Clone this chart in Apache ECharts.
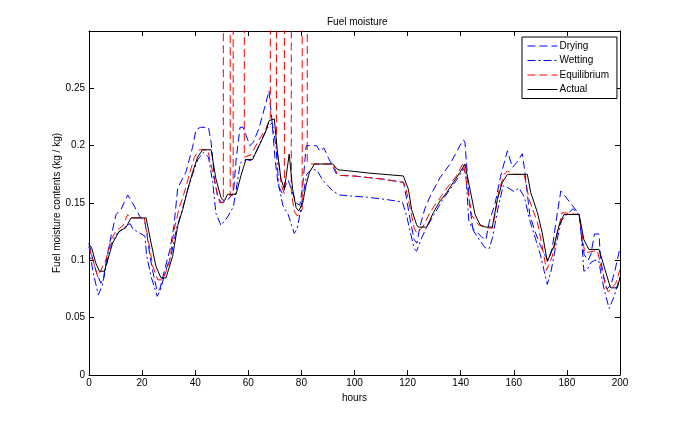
<!DOCTYPE html>
<html>
<head>
<meta charset="utf-8">
<title>Fuel moisture</title>
<script src="https://cdn.jsdelivr.net/npm/echarts@6/dist/echarts.min.js"></script>
<style>
  html, body { margin: 0; padding: 0; background: #fff; }
  #chart { width: 685px; height: 421px; }
</style>
</head>
<body>
<div id="chart"></div>
<script>
// [hour, moisture] pairs
var drying = [[0,0.115],[1.5,0.100],[3,0.088],[4.5,0.080],[5.5,0.085],[7,0.106],[8.3,0.121],[10.2,0.140],[12.1,0.1445],[13.7,0.153],[14.6,0.157],[16.4,0.150],[19.2,0.138],[21,0.134],[22,0.12],[23,0.103],[24.5,0.085],[25.7,0.073],[26.7,0.075],[28.5,0.092],[30.5,0.1095],[32,0.13],[33.4,0.163],[36.5,0.177],[39,0.1985],[40.3,0.214],[42,0.216],[45,0.216],[46,0.203],[47.3,0.17],[48.5,0.155],[50,0.15],[52,0.152],[54.4,0.159],[55.5,0.19],[56.9,0.216],[58,0.216],[59,0.21],[60.6,0.2],[61.9,0.203],[64,0.215],[66,0.232],[67.8,0.248],[68.8,0.225],[70,0.19],[71.3,0.165],[72.9,0.158],[74,0.165],[75,0.17],[76.5,0.16],[78,0.15],[79.4,0.148],[80.5,0.165],[81.8,0.2],[83,0.2],[85.7,0.2],[87,0.195],[88.5,0.198],[90,0.19],[91.4,0.184],[93,0.176],[95,0.174],[100,0.1735],[110,0.171],[118.5,0.168],[119.5,0.155],[121,0.135],[122.5,0.118],[123.5,0.115],[124.7,0.13],[126.5,0.145],[128.5,0.156],[132.2,0.172],[136,0.184],[139.7,0.2],[141,0.205],[141.6,0.203],[142.5,0.175],[143.3,0.15],[144.5,0.128],[146,0.125],[148,0.12],[149.5,0.118],[150.7,0.133],[153,0.15],[155,0.173],[157.6,0.1955],[159.5,0.181],[161,0.185],[163.2,0.193],[164,0.18],[166,0.14],[168,0.125],[170,0.113],[171.6,0.105],[173,0.1],[174.5,0.111],[176,0.135],[177.7,0.1605],[179,0.157],[182,0.148],[184.6,0.14],[185.5,0.12],[186.5,0.105],[188,0.1],[189,0.105],[190.4,0.123],[192.1,0.123],[192.7,0.1],[194,0.085],[195,0.075],[196.5,0.078],[198,0.09],[200,0.111]];

var wetting = [[0,0.112],[1.5,0.09],[3.5,0.070],[5,0.078],[6.5,0.095],[8,0.112],[10,0.122],[12,0.126],[14,0.13],[15.5,0.132],[16.6,0.127],[19,0.124],[21.1,0.121],[21.7,0.104],[23.5,0.085],[25.7,0.0686],[27,0.075],[29,0.092],[31,0.105],[33,0.128],[35,0.143],[37,0.16],[39,0.175],[41,0.188],[43,0.194],[45,0.19],[46.6,0.168],[47.8,0.141],[49.7,0.1305],[52,0.137],[54.4,0.147],[56,0.17],[57,0.185],[59,0.188],[61,0.187],[63,0.195],[65,0.205],[67,0.215],[69,0.22],[70.4,0.20],[71.5,0.165],[73,0.148],[75,0.14],[77.3,0.1235],[78.5,0.128],[79.4,0.14],[80.5,0.155],[82,0.175],[84,0.18],[86,0.178],[88,0.17],[90,0.165],[92,0.16],[94.4,0.157],[99,0.156],[105,0.155],[112,0.153],[118,0.151],[119.5,0.14],[121,0.125],[122.5,0.11],[123.4,0.108],[125,0.118],[127,0.128],[130,0.14],[133,0.152],[136,0.162],[139,0.172],[141,0.18],[142,0.175],[143,0.135],[145,0.125],[147,0.118],[149.2,0.111],[150.7,0.11],[152,0.12],[154,0.145],[156,0.165],[158,0.163],[160,0.16],[162,0.163],[164,0.155],[166,0.135],[168,0.12],[170,0.105],[171.5,0.09],[172.6,0.079],[174,0.09],[176,0.115],[178,0.135],[180,0.14],[182.3,0.145],[184.5,0.14],[185.2,0.13],[186.4,0.0905],[187.7,0.092],[189,0.098],[190.4,0.1],[192,0.1],[192.7,0.09],[194,0.075],[195.9,0.058],[197.8,0.0686],[200,0.086]];

// rain hours push the equilibrium far above the plotted range
var equilibrium = [[0,0.112],[3.3,0.0855],[6.4,0.1007],[8.3,0.118],[10.2,0.1255],[12.7,0.13],[14.6,0.140],[15.8,0.137],[20.8,0.137],[22.1,0.121],[24,0.095],[25.9,0.083],[27.8,0.083],[30.3,0.098],[32.1,0.127],[34,0.146],[35.9,0.159],[37.8,0.175],[39.7,0.19],[41.5,0.1964],[44.7,0.1964],[46.6,0.1766],[48.5,0.156],[49.3,0.150],[50.6,0.151],[50.6,0.5],[53.2,0.5],[53.2,0.156],[54.3,0.157],[54.3,0.5],[58.5,0.5],[58.5,0.19],[61,0.192],[64,0.205],[66.7,0.215],[68.3,0.225],[68.3,0.5],[70.6,0.5],[70.6,0.2],[71.5,0.185],[72.5,0.165],[73.6,0.158],[73.6,0.5],[76.2,0.5],[76.2,0.16],[77.3,0.143],[78.3,0.139],[79.5,0.14],[80.3,0.145],[80.3,0.5],[82.2,0.5],[82.2,0.186],[84,0.184],[92,0.184],[93.5,0.175],[95,0.174],[100,0.1735],[110,0.171],[118.5,0.168],[119.3,0.163],[121,0.145],[122.5,0.128],[123.4,0.124],[125.7,0.129],[128.5,0.142],[131,0.1505],[134.8,0.163],[138.5,0.174],[141,0.1854],[142.5,0.163],[144.2,0.139],[146.7,0.131],[149.2,0.1285],[152,0.128],[152.6,0.1357],[154.5,0.162],[156.4,0.175],[157.6,0.178],[160,0.175],[163.9,0.175],[165.8,0.153],[168.9,0.133],[170.7,0.1123],[172.3,0.0913],[174.5,0.1036],[176.4,0.124],[178.2,0.1416],[178.9,0.142],[184.6,0.140],[186,0.118],[186.7,0.1066],[191.5,0.1085],[193.4,0.089],[194.6,0.0773],[195.6,0.0724],[198.4,0.080],[200,0.092]];

var actual = [[0,0.114],[1,0.111],[2.5,0.098],[3.9,0.0905],[5.8,0.0905],[8.9,0.115],[11.4,0.1255],[13.9,0.1285],[15.8,0.137],[21.5,0.137],[23.4,0.115],[25.2,0.095],[27.1,0.0847],[29,0.0847],[31.5,0.1036],[33.4,0.13],[35.3,0.1445],[37.2,0.162],[39,0.1766],[40.9,0.19],[42.8,0.1964],[46,0.1964],[47.8,0.171],[49.7,0.155],[50.2,0.153],[51,0.152],[52.2,0.1576],[55.4,0.1576],[57.2,0.1736],[59.1,0.188],[61.6,0.188],[64.1,0.2],[66.7,0.213],[67.9,0.222],[69.8,0.2233],[71,0.194],[72.3,0.1708],[73.6,0.162],[75.4,0.1926],[76.7,0.162],[78,0.146],[79,0.143],[80.5,0.150],[81.7,0.165],[83,0.1766],[84.9,0.184],[91.8,0.184],[93.7,0.179],[98.7,0.1778],[105.8,0.176],[118.4,0.1736],[120.3,0.162],[121.5,0.1445],[123.4,0.131],[124,0.129],[127.2,0.129],[129.7,0.1416],[132.2,0.1518],[134.7,0.159],[137.2,0.168],[139.7,0.1766],[141.6,0.184],[143.5,0.162],[145.4,0.140],[147.3,0.131],[149.2,0.129],[151.9,0.129],[153.8,0.153],[155.7,0.168],[157.6,0.175],[165.1,0.175],[166.4,0.159],[168.9,0.1416],[170.7,0.124],[172.6,0.099],[173.3,0.0978],[175.1,0.1123],[177,0.13],[178.9,0.140],[184.6,0.140],[186.4,0.118],[188.3,0.1095],[192.1,0.1095],[194,0.0948],[195.9,0.080],[196.5,0.076],[199,0.076],[200,0.085]];

var font = 'Liberation Sans, Arial, Helvetica, sans-serif';

function lineSeries(name, data, color, dash) {
  return {
    name: name,
    type: 'line',
    data: data,
    showSymbol: false,
    symbol: 'none',
    animation: false,
    clip: true,
    xAxisIndex: 0,
    yAxisIndex: 0,
    lineStyle: { color: color, width: 1, type: dash },
    itemStyle: { color: color }
  };
}

function boxAxis(base) {
  return Object.assign({
    type: 'value',
    splitLine: { show: false },
    axisLine: { show: true, onZero: false, lineStyle: { color: '#000', width: 1 } },
    axisTick: { show: true, inside: true, length: 5, lineStyle: { color: '#000' } }
  }, base);
}

var myChart = echarts.init(document.getElementById('chart'));
myChart.setOption({
  animation: false,
  backgroundColor: '#fff',
  title: {
    text: 'Fuel moisture',
    left: 322,
    top: 12,
    textStyle: { fontFamily: font, fontSize: 10, fontWeight: 'normal', color: '#000' }
  },
  legend: {
    orient: 'vertical',
    left: 522,
    top: 37,
    padding: [4, 8, 4, 5],
    itemWidth: 30,
    itemHeight: 10,
    itemGap: 4.5,
    borderColor: '#000',
    borderWidth: 1,
    backgroundColor: '#fff',
    itemStyle: { opacity: 0 },
    lineStyle: { width: 1 },
    textStyle: { fontFamily: font, fontSize: 10, color: '#000', padding: [0, 0, 0, -3] },
    data: ['Drying', 'Wetting', 'Equilibrium', 'Actual']
  },
  grid: { left: 89, right: 65, top: 31, bottom: 46, outerBoundsMode: 'none' },
  xAxis: [
    boxAxis({
      min: 0, max: 200, interval: 20,
      name: 'hours',
      nameLocation: 'middle',
      nameGap: 18,
      nameTextStyle: { fontFamily: font, fontSize: 10, color: '#000' },
      axisLabel: { margin: 3, fontFamily: font, fontSize: 10, color: '#000' }
    }),
    boxAxis({ position: 'top', min: 0, max: 200, interval: 20, axisLabel: { show: false } })
  ],
  yAxis: [
    boxAxis({
      min: 0, max: 0.3, interval: 0.05,
      name: 'Fuel moisture contents (kg / kg)',
      nameLocation: 'middle',
      nameGap: 27,
      nameMoveOverlap: false,
      nameTextStyle: { fontFamily: font, fontSize: 10, color: '#000' },
      axisLabel: { margin: 4, showMaxLabel: false, fontFamily: font, fontSize: 10, color: '#000' }
    }),
    boxAxis({ position: 'right', min: 0, max: 0.3, interval: 0.05, axisLabel: { show: false } })
  ],
  series: [
    lineSeries('Drying', drying, '#0000ff', [8, 4]),
    lineSeries('Wetting', wetting, '#0000ff', [8, 3, 2, 3]),
    lineSeries('Equilibrium', equilibrium, '#ff0000', [8, 4]),
    lineSeries('Actual', actual, '#000000', 'solid')
  ]
});
</script>
</body>
</html>
